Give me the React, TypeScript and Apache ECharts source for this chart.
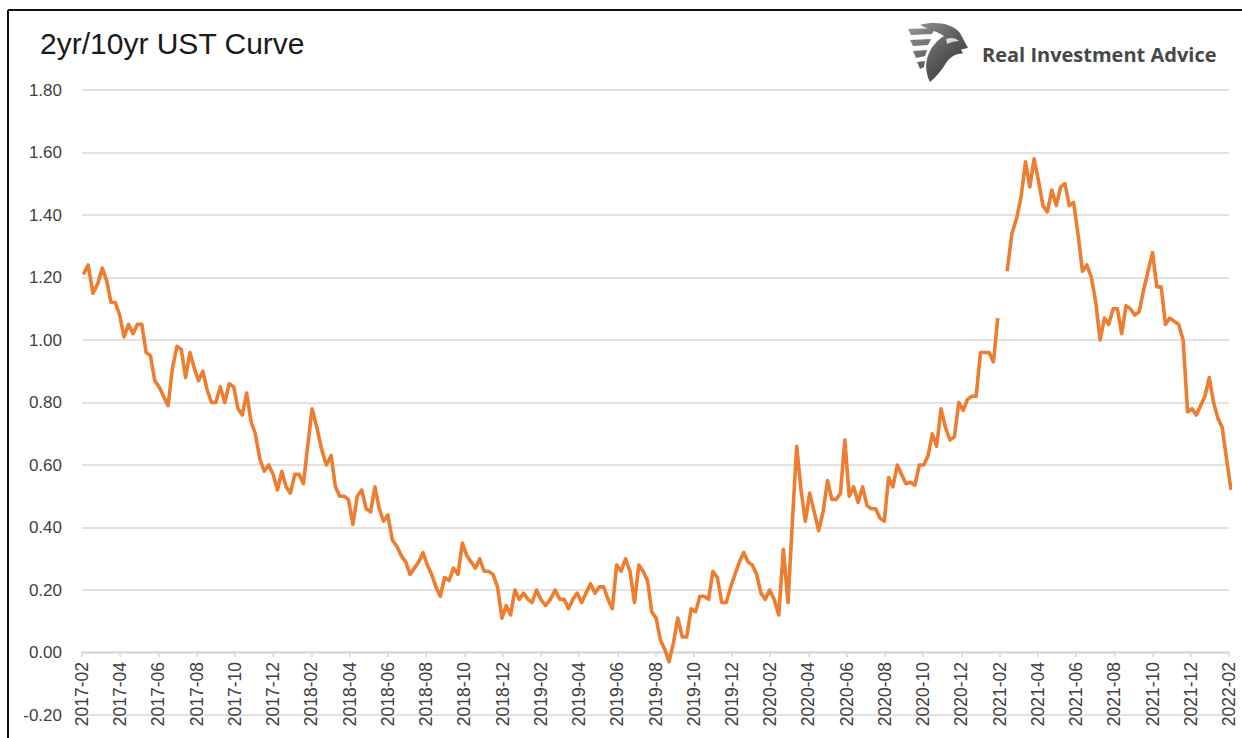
import React, { useEffect, useRef } from "react";
import * as echarts from "echarts";

// Weekly observations of the 10yr - 2yr Treasury spread (percentage points)
const START_DATE = "2017-02-03";
const STEP_DAYS = 7;
const spread: (number | null)[] = [
  1.21, 1.24, 1.15, 1.18, 1.23, 1.19, 1.12, 1.12, 1.08, 1.01,
  1.05, 1.02, 1.05, 1.05, 0.96, 0.95, 0.87, 0.85, 0.82, 0.79,
  0.91, 0.98, 0.97, 0.88, 0.96, 0.91, 0.87, 0.90, 0.84, 0.80,
  0.80, 0.85, 0.80, 0.86, 0.85, 0.78, 0.76, 0.83, 0.74, 0.70,
  0.62, 0.58, 0.60, 0.57, 0.52, 0.58, 0.53, 0.51, 0.57, 0.57,
  0.54, 0.66, 0.78, 0.72, 0.65, 0.60, 0.63,
  0.53, 0.50, 0.50, 0.49, 0.41, 0.50, 0.52, 0.46, 0.45, 0.53,
  0.46, 0.42, 0.44, 0.36, 0.34, 0.31, 0.29, 0.25, 0.27, 0.29,
  0.32, 0.28, 0.25, 0.21, 0.18, 0.24, 0.23, 0.27, 0.25, 0.35,
  0.31, 0.29, 0.27, 0.30, 0.26, 0.26, 0.25, 0.21, 0.11, 0.15,
  0.12, 0.20, 0.17, 0.19, 0.17, 0.16, 0.20, 0.17, 0.15, 0.17,
  0.20, 0.17, 0.17, 0.14, 0.17, 0.19, 0.16,
  0.19, 0.22, 0.19, 0.21, 0.21, 0.17, 0.14, 0.28, 0.26, 0.30,
  0.26, 0.16, 0.28, 0.26, 0.23, 0.13, 0.11, 0.04, 0.01, -0.03,
  0.03, 0.11, 0.05, 0.05, 0.14, 0.13, 0.18, 0.18, 0.17, 0.26,
  0.24, 0.16, 0.16, 0.21, 0.25, 0.29, 0.32, 0.29, 0.28, 0.25,
  0.19, 0.17, 0.20, 0.17, 0.12, 0.33, 0.16, 0.42, 0.66, 0.52,
  0.42, 0.51, 0.45, 0.39, 0.45, 0.55, 0.49, 0.49, 0.51, 0.68,
  0.50, 0.53, 0.48, 0.53, 0.47, 0.46, 0.46, 0.43, 0.42, 0.56,
  0.53, 0.60, 0.57, 0.54, 0.545, 0.535, 0.60, 0.60, 0.63, 0.70,
  0.66, 0.78, 0.72, 0.68, 0.69, 0.80, 0.775, 0.81, 0.82, 0.82,
  0.96, 0.96, 0.96, 0.93, 1.07, null, 1.22, 1.34, 1.39, 1.46,
  1.57, 1.49, 1.58, 1.51, 1.43, 1.41, 1.48, 1.43, 1.49, 1.50,
  1.43, 1.44, 1.34, 1.22, 1.24, 1.20, 1.12, 1.00, 1.07, 1.05,
  1.10, 1.10, 1.02, 1.11, 1.10, 1.08, 1.09, 1.16, 1.22, 1.28,
  1.17, 1.17, 1.05, 1.07, 1.06, 1.05, 1.00, 0.77, 0.78, 0.76,
  0.79, 0.82, 0.88, 0.80, 0.75, 0.72, 0.62, 0.52,
];

const TITLE = "2yr/10yr UST Curve";
const BRAND = "Real Investment Advice";
const AXIS_FIRST_YEAR = 2017;
const AXIS_FIRST_MONTH = 2; // February
const AXIS_MONTHS = 60;
const Y_MIN = -0.2;
const Y_MAX = 1.8;
const Y_STEP = 0.2;

const LOGO_PATH =
  "M12 3 C26 -1 44 1 52 11 L60 26 L53 27.5 L55 31.5 C48 31 42 35 38 41 C33 49 28 55 22 60 C17 50 17 40 21 31 C24 24 30 18 36 14 C30 10 22 8 12 3 Z " +
  "M0 7 L27 6 L24 12 L3 13 Z " +
  "M2 18 L23 17 L20 23 L5 24 Z " +
  "M5 29 L19 28 L17 34 L8 36 Z " +
  "M9 40 L17 39 L16 45 L12 47 Z";

const EYE_PATH = "M38 17 C43 15 48 16 51 19 C47 19 43 20 39 22 Z";

function monthOffset(d: Date): number {
  const y = d.getUTCFullYear();
  const m = d.getUTCMonth();
  const day = d.getUTCDate();
  const dim = new Date(Date.UTC(y, m + 1, 0)).getUTCDate();
  return (y - AXIS_FIRST_YEAR) * 12 + (m - (AXIS_FIRST_MONTH - 1)) + (day - 1) / dim;
}

function buildPoints() {
  const start = new Date(START_DATE + "T00:00:00Z");
  return spread.map((v, i) => {
    const d = new Date(start.getTime() + i * STEP_DAYS * 86400000);
    return [monthOffset(d), v];
  });
}

function monthLabel(v: number) {
  const total = AXIS_FIRST_MONTH - 1 + Math.round(v);
  const yr = AXIS_FIRST_YEAR + Math.floor(total / 12);
  const mo = (total % 12) + 1;
  return `${yr}-${mo < 10 ? "0" + mo : mo}`;
}

let registered = false;

export default function App() {
  const ref = useRef<HTMLDivElement>(null);

  useEffect(() => {
    document.body.style.margin = "0";
    if (!registered) {
      echarts.graphic.registerShape("logo", echarts.graphic.extendPath(LOGO_PATH, {}) as any);
      echarts.graphic.registerShape("logoeye", echarts.graphic.extendPath(EYE_PATH, {}) as any);
      registered = true;
    }
    const chart = echarts.init(ref.current!, undefined, { renderer: "svg" });
    const font = '"Liberation Sans", Arial, sans-serif';
    chart.setOption({
      animation: false,
      backgroundColor: "#ffffff",
      grid: [
        { left: 82, right: 13, top: 90, bottom: 23, containLabel: false, outerBoundsMode: "none" },
        // companion grid whose bottom edge sits on the zero line, carrying the date labels
        { left: 82, right: 13, top: 90, bottom: 86, containLabel: false, outerBoundsMode: "none" },
      ],
      xAxis: [
        {
          gridIndex: 0,
          type: "value",
          min: 0,
          max: AXIS_MONTHS,
          interval: 2,
          axisLine: { show: false },
          axisTick: { show: false },
          axisLabel: { show: false },
          splitLine: { show: false },
        },
        {
          gridIndex: 1,
          type: "value",
          min: 0,
          max: AXIS_MONTHS,
          interval: 2,
          axisLine: { show: true, onZero: false, lineStyle: { color: "#d9d9d9", width: 1.5 } },
          axisTick: { show: true, length: 5, lineStyle: { color: "#d9d9d9", width: 1.5 } },
          splitLine: { show: false },
          axisLabel: {
            rotate: 90,
            margin: 10,
            fontSize: 17.5,
            fontFamily: font,
            color: "#404040",
            formatter: monthLabel,
          },
        },
      ],
      yAxis: [
        {
          gridIndex: 0,
          type: "value",
          min: Y_MIN,
          max: Y_MAX,
          interval: Y_STEP,
          axisLine: { show: false },
          axisTick: { show: false },
          splitLine: { show: true, lineStyle: { color: "#d9d9d9", width: 1.5 } },
          axisLabel: {
            margin: 20,
            fontSize: 17,
            fontFamily: font,
            color: "#404040",
            formatter: (v: number) => v.toFixed(2),
          },
        },
        {
          gridIndex: 1,
          type: "value",
          min: 0,
          max: Y_MAX,
          show: false,
        },
      ],
      series: [
        {
          type: "line",
          xAxisIndex: 0,
          yAxisIndex: 0,
          data: buildPoints(),
          showSymbol: false,
          connectNulls: false,
          clip: false,
          z: 5,
          lineStyle: { color: "#ED7D31", width: 3.6, join: "round" },
          itemStyle: { color: "#ED7D31" },
        },
      ],
      graphic: [
        { type: "line", shape: { x1: 8, y1: 10, x2: 1242, y2: 10 }, style: { stroke: "#111", lineWidth: 2 } },
        { type: "line", shape: { x1: 8, y1: 10, x2: 8, y2: 738 }, style: { stroke: "#111", lineWidth: 2 } },
        {
          type: "text",
          x: 40,
          y: 43,
          style: {
            text: TITLE,
            font: `30px ${font}`,
            fill: "#1a1a1a",
            verticalAlign: "middle",
          },
        },
        {
          type: "logo",
          x: 908,
          y: 22,
          scaleX: 1,
          scaleY: 1,
          style: {
            fill: {
              type: "linear",
              x: 0,
              y: 0,
              x2: 1,
              y2: 1,
              colorStops: [
                { offset: 0, color: "#9a9a9a" },
                { offset: 0.5, color: "#5e5e5e" },
                { offset: 1, color: "#2e2e2e" },
              ],
            },
          },
        },
        { type: "logoeye", x: 908, y: 22, style: { fill: "#d8d8d8" } },
        {
          type: "text",
          x: 982,
          y: 54,
          style: {
            text: BRAND,
            font: 'bold 20px "Open Sans", Lato, sans-serif',
            fill: "#474747",
            verticalAlign: "middle",
          },
        },
      ],
    });
    return () => chart.dispose();
  }, []);

  return <div ref={ref} style={{ width: 1242, height: 738 }} />;
}
